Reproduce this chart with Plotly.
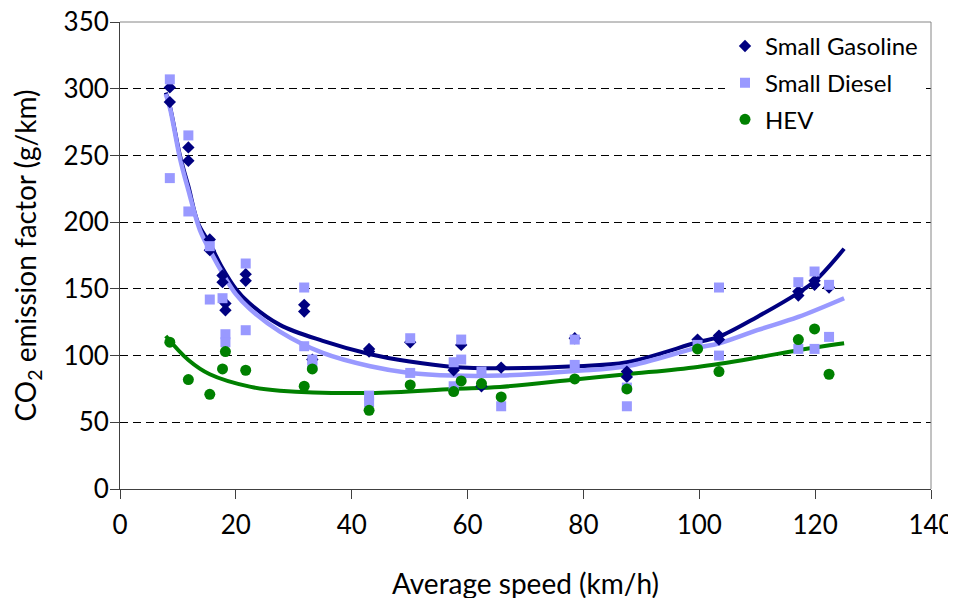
import plotly.graph_objects as go

# ---- data ----
gas_x = [8.6, 8.6, 11.8, 11.8, 15.5, 15.5, 17.7, 17.7, 18.2, 18.2, 21.7, 21.7, 31.8, 31.8, 33.2,
         43.0, 43.0, 50.1, 57.6, 58.9, 62.4, 65.8, 78.5, 87.5, 87.5, 99.7, 103.4, 103.4,
         117.1, 117.1, 119.9, 119.9, 122.4]
gas_y = [301, 290, 256, 246, 187, 179, 160, 155, 139, 134, 161, 156, 138, 133, 97,
         105, 103, 110, 89, 108, 77, 91, 113, 88, 84, 112, 115, 112,
         148, 145, 156, 153, 151]

dsl_x = [8.6, 8.6, 11.8, 11.8, 15.5, 15.5, 17.7, 18.2, 18.2, 21.7, 21.7, 31.8, 31.8, 33.2, 33.2,
         43.0, 43.0, 50.1, 50.1, 57.6, 57.6, 58.9, 58.9, 62.4, 65.8, 78.5, 78.5, 87.5, 87.5,
         99.7, 103.4, 103.4, 117.1, 117.1, 119.9, 119.9, 122.4, 122.4]
dsl_y = [307, 233, 265, 208, 182, 142, 143, 116, 110, 169, 119, 151, 107, 97, 92,
         70, 65, 113, 87, 95, 77, 112, 97, 88, 62, 112, 93, 62, 76,
         108, 151, 100, 155, 105, 163, 105, 153, 114]

hev_x = [8.6, 11.8, 15.5, 17.7, 18.2, 21.7, 31.8, 33.2, 43.0, 50.1, 57.6, 58.9, 62.4, 65.8,
         78.5, 87.5, 99.7, 103.4, 117.1, 119.9, 122.4]
hev_y = [110, 82, 71, 90, 103, 89, 77, 90, 59, 78, 73, 81, 79, 69,
         82.5, 75, 105, 88, 112, 120, 86]

# trend curves as drawn in the reference
gas_fit_x = [7.9, 8.6, 10.4, 11.8, 13.5, 15.5, 17.5, 20, 22.4, 27.6, 35, 43.2, 50, 57.5, 65.6,
             78.5, 87.5, 99.7, 103.3, 110, 117.1, 120, 125]
gas_fit_y = [297, 287, 249, 227, 199, 184, 167, 150, 139, 123, 111, 101, 95.5, 91.5, 90.5,
             92, 95, 110, 114, 129, 147, 156, 180]

dsl_fit_x = [7.9, 8.6, 10.4, 11.8, 13.8, 15.5, 17.8, 20, 22.4, 27.6, 35, 43.2, 50, 57.5, 65.6,
             78.5, 87.5, 99.7, 103.3, 110, 117.1, 125]
dsl_fit_y = [296, 286, 247, 224, 194, 179, 161, 146, 135, 118, 102, 92, 87, 85, 85,
             88.5, 92, 106, 109, 119, 129, 143]

hev_fit_x = [7.9, 11.8, 15.5, 22.4, 27.6, 43.2, 57.5, 65.6, 78.5, 87.5, 99.7, 110, 117.1, 125]
hev_fit_y = [114.7, 96.7, 86, 76.7, 73.7, 72, 75, 76.5, 82, 86, 91.5, 98.5, 104, 109.2]

x_ticks = [0, 20, 40, 60, 80, 100, 120, 140]
y_ticks = [0, 50, 100, 150, 200, 250, 300, 350]

NAVY = "#000080"
LIGHT = "#9999FF"
GREEN = "#008000"
FONT = "Lato"

fig = go.Figure()

# trend lines
fig.add_trace(go.Scatter(x=gas_fit_x, y=gas_fit_y, mode="lines", line=dict(color=NAVY, width=4, shape="spline"),
                         showlegend=False, hoverinfo="skip"))
fig.add_trace(go.Scatter(x=dsl_fit_x, y=dsl_fit_y, mode="lines", line=dict(color=LIGHT, width=4.5, shape="spline"),
                         showlegend=False, hoverinfo="skip"))
fig.add_trace(go.Scatter(x=hev_fit_x, y=hev_fit_y, mode="lines", line=dict(color=GREEN, width=4, shape="spline"),
                         showlegend=False, hoverinfo="skip"))

# markers
fig.add_trace(go.Scatter(x=gas_x, y=gas_y, mode="markers", name="Small Gasoline", legendgroup="g1",
                         marker=dict(symbol="diamond", size=9.5, color=NAVY)))
fig.add_trace(go.Scatter(x=dsl_x, y=dsl_y, mode="markers", name="Small Diesel", legendgroup="g2",
                         marker=dict(symbol="square", size=10, color=LIGHT)))
fig.add_trace(go.Scatter(x=hev_x, y=hev_y, mode="markers", name="HEV", legendgroup="g3",
                         marker=dict(symbol="circle", size=11, color=GREEN)))

fig.update_layout(
    width=956, height=598,
    margin=dict(l=112, r=33, t=14, b=117),
    paper_bgcolor="white", plot_bgcolor="white",
    font=dict(family=FONT, size=24, color="black"),
    xaxis=dict(range=[0, 140], tickvals=x_ticks, ticks="outside", ticklen=9, tickcolor="#404040",
               showline=True, linecolor="#404040", linewidth=1, showgrid=False, zeroline=False,
               tickfont=dict(size=26), ticklabelstandoff=4, ticklabeloverflow="allow", automargin=False,
               title=dict(text="Average speed (km/h)", font=dict(size=28), standoff=35)),
    yaxis=dict(range=[0, 350], tickvals=y_ticks, ticks="outside", ticklen=9, tickcolor="#404040",
               showline=True, linecolor="#404040", linewidth=1, showgrid=True, gridcolor="black",
               griddash="8px,5px", gridwidth=1, zeroline=False, tickfont=dict(size=26),
               ticklabelstandoff=-4, ticklabeloverflow="allow", automargin=False,
               title=dict(text="CO<sub>2</sub> emission factor (g/km)", font=dict(size=28), standoff=20)),
    legend=dict(x=0.746, y=0.996, xanchor="left", yanchor="top", bgcolor="white", borderwidth=0,
                font=dict(size=24), traceorder="grouped", tracegroupgap=2.5),
    shapes=[
        dict(type="line", xref="paper", yref="paper", x0=0, x1=1, y0=1, y1=1,
             line=dict(color="#868686", width=1), layer="above"),
        dict(type="line", xref="paper", yref="paper", x0=1, x1=1, y0=0, y1=1,
             line=dict(color="#868686", width=1), layer="above"),
    ],
)

fig.write_html("out.html")
